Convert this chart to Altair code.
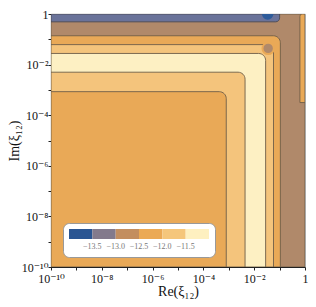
import altair as alt
import pandas as pd

# thresholds of the contour levels (legend labels)
levels = [-13.5, -13.0, -12.5, -12.0, -11.5]
plot_colors = ["#2d5b9a", "#6a739a", "#b0896a", "#e9a957", "#f4c47c", "#fdf0c3"]
legend_colors = ["#2a5592", "#837a8c", "#c38e5f", "#eba954", "#f5c67b", "#fef0c0"]

# nested contour regions anchored at the lower-left corner (log10 of upper edges)
band_x_hi = [0.0, -0.97, -1.24, -1.55, -2.36, -3.10]
band_y_hi = [0.0, -0.86, -1.21, -1.56, -2.30, -3.07]
band_z = [-12.75, -12.25, -11.75, -11.25, -11.75, -12.25]

# top strip (level band along Im ~ 1)
top_x = [-10.0, -1.0]
top_y = [-0.31, 0.0]
top_z = [-13.25]

# thin strip along Re ~ 1
side_x = [-0.2, 0.0]
side_y = [-3.5, 0.0]
side_z = [-12.25]

# small islands (log10 Re, log10 Im, level)
dark_x = [-1.47]
dark_y = [0.0]
dark_z = [-13.75]
island_x = [-1.45]
island_y = [-1.36]
island_z = [-12.75]

LO = -10.0

bands = pd.DataFrame({
    "x0": [10 ** LO] * len(band_z),
    "x1": [10 ** v for v in band_x_hi],
    "y0": [10 ** LO] * len(band_z),
    "y1": [10 ** v for v in band_y_hi],
    "z": band_z,
})
top = pd.DataFrame({"x0": [10 ** top_x[0]], "x1": [10 ** top_x[1]],
                    "y0": [10 ** top_y[0]], "y1": [10 ** top_y[1]], "z": top_z})
side = pd.DataFrame({"x0": [10 ** side_x[0]], "x1": [10 ** side_x[1]],
                     "y0": [10 ** side_y[0]], "y1": [10 ** side_y[1]], "z": side_z})
dark = pd.DataFrame({"x": [10 ** v for v in dark_x], "y": [10 ** v for v in dark_y], "z": dark_z})
island = pd.DataFrame({"x": [10 ** v for v in island_x], "y": [10 ** v for v in island_y], "z": island_z})

SERIF = "Liberation Serif, DejaVu Serif, serif"
ticks = [10.0 ** k for k in range(-10, 1)]
lab = "['10⁻¹⁰','','10⁻⁸','','10⁻⁶','','10⁻⁴','','10⁻²','','1'][round(log(datum.value)/LN10)+10]"

xscale = alt.Scale(type="log", domain=[1e-10, 1], nice=False)
yscale = alt.Scale(type="log", domain=[1e-10, 1], nice=False)
fill_scale = alt.Scale(type="threshold", domain=levels, range=plot_colors)

xax = alt.Axis(values=ticks, labelExpr=lab, title="Re(ξ₁₂)", grid=False,
               labelOverlap=False, labelFlush=False, tickSize=3, labelPadding=3,
               titlePadding=0)
yax = alt.Axis(values=ticks, labelExpr=lab, title="Im(ξ₁₂)", grid=False,
               labelOverlap=False, labelFlush=False, tickSize=3, labelPadding=0,
               titlePadding=0)

base_enc = dict(
    x=alt.X("x0:Q", scale=xscale, axis=xax),
    x2="x1:Q",
    y=alt.Y("y0:Q", scale=yscale, axis=yax),
    y2="y1:Q",
    fill=alt.Fill("z:Q", scale=fill_scale, legend=None),
)

stroke_col = "#6e5d48"

# layer underneath, covered by the bands, only used to carry the legend
legend_layer = alt.Chart(bands).mark_rect().encode(
    x=alt.X("x0:Q", scale=xscale, axis=xax),
    x2="x1:Q",
    y=alt.Y("y0:Q", scale=yscale, axis=yax),
    y2="y1:Q",
    color=alt.Color(
        "z:Q",
        scale=alt.Scale(type="threshold", domain=levels, range=legend_colors),
        legend=alt.Legend(
            type="gradient", direction="horizontal", orient="none",
            legendX=12, legendY=209, title=None, format=".1f",
            gradientLength=140, gradientThickness=10, gradientStrokeWidth=0,
            labelFont=SERIF, labelFontSize=8, labelColor="#777", labelOffset=4,
            fillColor="white", strokeColor="#999", cornerRadius=6, padding=6,
        ),
    ),
)

band_layer = alt.Chart(bands).mark_rect(
    cornerRadiusTopRight=7, stroke=stroke_col, strokeWidth=0.9, clip=True
).encode(**base_enc)

top_layer = alt.Chart(top).mark_rect(
    cornerRadiusBottomRight=6, stroke="#4a4a55", strokeWidth=0.9, clip=True
).encode(**base_enc)

side_layer = alt.Chart(side).mark_rect(
    cornerRadiusTopLeft=9, stroke=stroke_col, strokeWidth=0.9, clip=True
).encode(**base_enc)

dark_layer = alt.Chart(dark).mark_point(
    filled=True, shape="circle", size=130, opacity=1, clip=True
).encode(
    x=alt.X("x:Q", scale=xscale),
    y=alt.Y("y:Q", scale=yscale),
    fill=alt.Fill("z:Q", scale=fill_scale, legend=None),
)

island_layer = alt.Chart(island).mark_point(
    filled=True, shape="circle", size=130, stroke="#e9a957", strokeWidth=2,
    opacity=1, clip=True
).encode(
    x=alt.X("x:Q", scale=xscale),
    y=alt.Y("y:Q", scale=yscale),
    fill=alt.Fill("z:Q", scale=fill_scale, legend=None),
)

chart = alt.layer(legend_layer, band_layer, top_layer, side_layer, dark_layer,
                  island_layer).properties(
    width=254, height=253,
    autosize=alt.AutoSizeParams(type="none"),
    padding={"left": 43, "top": 6, "right": 3, "bottom": 32},
).configure_view(
    stroke="#777", strokeWidth=0.8
).configure_axis(
    labelFont=SERIF, titleFont=SERIF, labelFontSize=12, titleFontSize=14,
    titleFontWeight="normal", labelColor="#111", titleColor="#111",
    domainColor="#222", tickColor="#222", domainWidth=1,
)

chart.save("out.html", embed_options={"renderer": "svg", "actions": False})
